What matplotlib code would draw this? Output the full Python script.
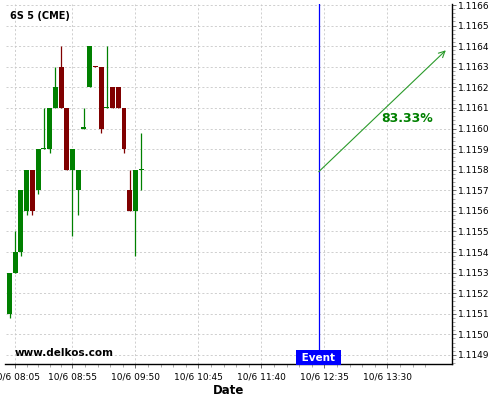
import matplotlib
matplotlib.use("Agg")
import matplotlib.pyplot as plt
from matplotlib.ticker import FixedLocator, FuncFormatter, MultipleLocator
import matplotlib.transforms as mtransforms

# ---------------------------------------------------------------------------
# Data (5-minute bars, 6S front month)
# ---------------------------------------------------------------------------
bar_times = ["08:00", "08:05", "08:10", "08:15", "08:20", "08:25", "08:30", "08:35",
             "08:40", "08:45", "08:50", "08:55", "09:00", "09:05", "09:10", "09:15",
             "09:20", "09:25", "09:30", "09:35", "09:40", "09:45", "09:50", "09:55"]
opens  = [1.1151, 1.1153, 1.1154, 1.1156, 1.1158, 1.1157, 1.1159, 1.1159,
          1.1161, 1.1163, 1.1161, 1.1158, 1.1157, 1.1160, 1.1162, 1.116302,
          1.1163, 1.1161, 1.1162, 1.1162, 1.1161, 1.1157, 1.1156, 1.1158]
highs  = [1.1153, 1.1155, 1.1157, 1.1158, 1.1158, 1.1159, 1.1161, 1.1161,
          1.1163, 1.1164, 1.1161, 1.1159, 1.1158, 1.1161, 1.1164, 1.116302,
          1.1163, 1.1164, 1.1162, 1.1162, 1.1161, 1.1158, 1.1158, 1.11598]
lows   = [1.11508, 1.1153, 1.11538, 1.11558, 1.11558, 1.11568, 1.1159, 1.11588,
          1.1161, 1.1161, 1.1158, 1.11548, 1.11558, 1.1160, 1.1162, 1.1163,
          1.11598, 1.1161, 1.1161, 1.1161, 1.11588, 1.1156, 1.11538, 1.1157]
closes = [1.1153, 1.1154, 1.1157, 1.1158, 1.1156, 1.1159, 1.1159, 1.1161,
          1.1162, 1.1161, 1.1158, 1.1159, 1.1158, 1.1160, 1.1164, 1.1163,
          1.1160, 1.1161, 1.1161, 1.1161, 1.1159, 1.1156, 1.1158, 1.1158]

tick_times = ["08:05", "08:55", "09:50", "10:45", "11:40", "12:35", "13:30"]
event_time = "12:30"
arrow_start = ("12:30", 1.11579)
arrow_end = ("14:21", 1.11638)
prob_label = "83.33%"
prob_pos = ("13:47", 1.11605)

UP, DOWN = "#008000", "#800000"


def mins(hhmm):
    """minutes relative to 08:05"""
    h, m = hhmm.split(":")
    return int(h) * 60 + int(m) - (8 * 60 + 5)


fig = plt.figure(figsize=(5, 4), dpi=100)
ax = fig.add_axes([0.011, 0.09, 0.893, 0.90])

# candles
xs = [mins(t) for t in bar_times]
for x, o, h, l, c in zip(xs, opens, highs, lows, closes):
    col = UP if c >= o else DOWN
    ax.vlines(x, l, h, color=col, lw=0.9, zorder=3)
    ax.bar(x, max(abs(c - o), 0.000005), bottom=min(o, c), width=4.3,
           color=col, edgecolor="none", zorder=4)

# event marker
ev = mins(event_time)
ax.axvline(ev, color="#0000ff", lw=0.9, zorder=2)
trans = mtransforms.blended_transform_factory(ax.transData, ax.transAxes)
ax.text(ev, 0.004, " Event ", transform=trans, ha="center", va="bottom",
        color="white", fontsize=7.5, fontweight="bold", zorder=6,
        bbox=dict(boxstyle="square,pad=0.22", fc="#0000ff", ec="none"))

# projection arrow
ax.annotate("", xy=(mins(arrow_end[0]), arrow_end[1]),
            xytext=(mins(arrow_start[0]), arrow_start[1]),
            arrowprops=dict(arrowstyle="->", color="#2a9a2a", lw=0.8,
                            mutation_scale=11, shrinkA=0, shrinkB=0), zorder=5)
ax.text(mins(prob_pos[0]), prob_pos[1], prob_label, color="#008000",
        fontsize=9, fontweight="bold", ha="center", va="center", zorder=6)

# axes
ax.set_xlim(-8.5, 381.4)
ax.set_ylim(1.114856, 1.116605)

major_x = [mins(t) for t in tick_times]
minor_x = []
for a, b in zip(major_x[:-1], major_x[1:]):
    minor_x += [a + (b - a) * k / 5 for k in range(1, 5)]
step = (major_x[-1] - major_x[-2]) / 5
minor_x += [major_x[-1] + step * k for k in range(1, 4)]
ax.xaxis.set_major_locator(FixedLocator(major_x))
ax.xaxis.set_minor_locator(FixedLocator(minor_x))
ax.set_xticklabels(["10/6 " + t for t in tick_times])

ax.yaxis.tick_right()
ax.yaxis.set_major_locator(MultipleLocator(0.0001))
ax.yaxis.set_minor_locator(MultipleLocator(0.00002))
ax.yaxis.set_major_formatter(FuncFormatter(lambda v, p: f"{v:.4f}"))

ax.tick_params(axis="both", which="major", labelsize=6.5, length=3, width=0.6,
               color="#555555", pad=1.5)
ax.tick_params(axis="both", which="minor", length=1.8, width=0.5, color="#888888")
ax.tick_params(axis="x", which="major", pad=3)

ax.grid(True, which="major", color="#c8c8c8", lw=0.6, ls=(0, (2.5, 2.5)))
ax.set_axisbelow(True)

for side in ("left", "top"):
    ax.spines[side].set_visible(False)
for side in ("right", "bottom"):
    ax.spines[side].set_linewidth(1.0)

ax.set_xlabel("Date", fontsize=8.5, fontweight="bold", labelpad=2)

fig.text(10 / 500, 1 - 16 / 400, "6S 5 (CME)", fontsize=7, fontweight="bold",
         ha="left", va="center")
fig.text(15 / 500, 1 - 353.5 / 400, "www.delkos.com", fontsize=7.5,
         fontweight="bold", ha="left", va="center")

fig.savefig("out.png", dpi=100)
